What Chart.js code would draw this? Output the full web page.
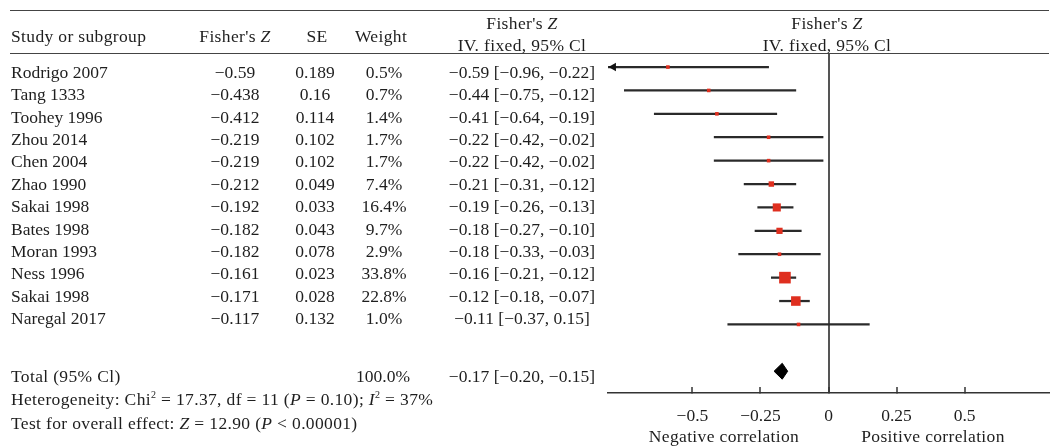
<!DOCTYPE html>
<html>
<head>
<meta charset="utf-8">
<script src="https://cdn.jsdelivr.net/npm/chart.js@4.4.0/dist/chart.umd.min.js"></script>
<style>
body { margin: 0; background: #fff; }
#wrap { position: relative; width: 1051px; height: 446px; font-family: "Liberation Serif", serif; font-size: 17.5px; color: #1e1e1e; }
#forest { position: absolute; left: 0; top: 0; }
.t { position: absolute; white-space: nowrap; line-height: 20px; }
.c { transform: translateX(-50%); }
.w { letter-spacing: 0.35px; }
.rule { position: absolute; left: 10px; width: 1039px; height: 0; border-top: 1.5px solid #444; }
sup { font-size: 10px; line-height: 0; }
</style>
</head>
<body>
<div id="wrap"><canvas id="forest" width="1051" height="446"></canvas></div>
<script>
// study rows
var studies = ['Rodrigo 2007', 'Tang 1333', 'Toohey 1996', 'Zhou 2014', 'Chen 2004', 'Zhao 1990',
  'Sakai 1998', 'Bates 1998', 'Moran 1993', 'Ness 1996', 'Sakai 1998', 'Naregal 2017'];
var fisherZ = [-0.59, -0.438, -0.412, -0.219, -0.219, -0.212, -0.192, -0.182, -0.182, -0.161, -0.171, -0.117];
var se = [0.189, 0.16, 0.114, 0.102, 0.102, 0.049, 0.033, 0.043, 0.078, 0.023, 0.028, 0.132];
var weights = [0.5, 0.7, 1.4, 1.7, 1.7, 7.4, 16.4, 9.7, 2.9, 33.8, 22.8, 1.0];
var estimate = [-0.59, -0.44, -0.41, -0.22, -0.22, -0.21, -0.19, -0.18, -0.18, -0.16, -0.12, -0.11];
var lower = [-0.96, -0.75, -0.64, -0.42, -0.42, -0.31, -0.26, -0.27, -0.33, -0.21, -0.18, -0.37];
var upper = [-0.22, -0.12, -0.19, -0.02, -0.02, -0.12, -0.13, -0.10, -0.03, -0.12, -0.07, 0.15];

// pooled result
var totalWeight = 100;
var totalEst = -0.17, totalLower = -0.20, totalUpper = -0.15;
var totalRow = 13;

var xTicks = [-0.5, -0.25, 0, 0.25, 0.5];
var xMin = -0.81, xMax = 0.81;

var RED = '#df2f1f';
var INK = '#1e1e1e';

function fmt(v) { return (v < 0 ? '\u2212' : '') + Math.abs(v).toFixed(2); }
function raw(v) { return String(v).replace('-', '\u2212'); }
function ciText(e, l, u) { return fmt(e) + ' [' + fmt(l) + ', ' + fmt(u) + ']'; }

var ciBars = studies.map(function (s, i) { return { x: [lower[i], upper[i]], y: i }; });
var squares = studies.map(function (s, i) { return { x: estimate[i], y: i }; });
// square side grows with the study weight
var squareRadius = weights.map(function (w) { return Math.max(3.6, 2 * Math.sqrt(w)) / 1.414; });
var arrows = [];
lower.forEach(function (l, i) { if (l < xMin) arrows.push({ x: xMin + 0.02, y: i }); });
var diamond = [
  { x: totalLower, y: totalRow }, { x: totalEst, y: totalRow - 0.34 },
  { x: totalUpper, y: totalRow }, { x: totalEst, y: totalRow + 0.34 }, { x: totalLower, y: totalRow }
];

var serif = { family: 'Liberation Serif', size: 17.5 };

var chart = new Chart(document.getElementById('forest'), {
  type: 'bar',
  data: {
    datasets: [{
      type: 'bar',
      indexAxis: 'y',
      data: ciBars,
      backgroundColor: '#2a2a2a',
      borderWidth: 0,
      barThickness: 1.6,
      order: 3
    }, {
      type: 'scatter',
      data: squares,
      pointStyle: 'rect',
      pointRadius: squareRadius,
      pointBackgroundColor: RED,
      pointBorderWidth: 0,
      order: 1
    }, {
      type: 'scatter',
      data: arrows,
      pointStyle: 'triangle',
      rotation: -90,
      pointRadius: 5,
      pointBackgroundColor: '#111',
      pointBorderWidth: 0,
      order: 2
    }, {
      type: 'line',
      data: diamond,
      borderColor: '#000',
      backgroundColor: '#000',
      borderWidth: 1,
      pointRadius: 0,
      fill: 'shape',
      tension: 0,
      order: 1
    }]
  },
  options: {
    responsive: false,
    animation: false,
    events: [],
    layout: { autoPadding: false, padding: { left: 608, right: 2, top: 53, bottom: 0 } },
    plugins: { legend: { display: false }, tooltip: { enabled: false } },
    scales: {
      x: {
        type: 'linear',
        position: 'bottom',
        offset: false,
        min: xMin,
        max: xMax,
        afterBuildTicks: function (s) { s.ticks = xTicks.map(function (v) { return { value: v }; }); },
        afterFit: function (s) { s.height = 53; },
        ticks: {
          font: serif,
          color: INK,
          padding: 19,
          maxRotation: 0,
          callback: function (v) { return v === 0 ? '0' : (v < 0 ? '\u2212' : '') + Math.abs(v); }
        },
        grid: {
          offset: false,
          drawOnChartArea: true,
          color: function (c) { return c.tick && c.tick.value === 0 ? '#555' : 'rgba(0,0,0,0)'; },
          lineWidth: 2,
          tickColor: '#333',
          tickWidth: 1.5,
          tickLength: -6
        },
        border: { display: true, color: '#333', width: 1.5 }
      },
      y: {
        type: 'linear',
        reverse: true,
        offset: false,
        grid: { offset: false },
        min: -0.6,
        max: 13.93,
        display: false
      }
    }
  }
});

// table text next to the plot
var wrap = document.getElementById('wrap');
function addText(html, x, y, center, wide) {
  var d = document.createElement('div');
  d.className = 't' + (center ? ' c' : '') + (wide ? ' w' : '');
  d.innerHTML = html;
  d.style.left = x + 'px';
  d.style.top = (y - 10) + 'px';
  wrap.appendChild(d);
}
function addRule(y) {
  var d = document.createElement('div');
  d.className = 'rule';
  d.style.top = y + 'px';
  wrap.appendChild(d);
}

addRule(10);
addRule(53);

addText('Study or subgroup', 11, 36, false, true);
addText('Fisher\'s <i>Z</i>', 235, 36, true, true);
addText('SE', 317, 36, true, true);
addText('Weight', 381, 36, true, true);
addText('Fisher\'s <i>Z</i>', 522, 23, true, true);
addText('IV. fixed, 95% Cl', 522, 45, true, true);
addText('Fisher\'s <i>Z</i>', 827, 23, true, true);
addText('IV. fixed, 95% Cl', 827, 45, true, true);

studies.forEach(function (s, i) {
  var y = 71.7 + 22.4 * i;
  addText(s, 11, y);
  addText(raw(fisherZ[i]), 235, y, true);
  addText(raw(se[i]), 315, y, true);
  addText(weights[i].toFixed(1) + '%', 384, y, true);
  addText(ciText(estimate[i], lower[i], upper[i]), 522, y, true);
});

addText('Total (95% Cl)', 11, 376, false, true);
addText(totalWeight.toFixed(1) + '%', 383, 376, true);
addText(ciText(totalEst, totalLower, totalUpper), 522, 376, true);
addText('Heterogeneity: Chi<sup>2</sup> = 17.37, df = 11 (<i>P</i> = 0.10); <i>I</i><sup>2</sup> = 37%', 11, 399, false, true);
addText('Test for overall effect: <i>Z</i> = 12.90 (<i>P</i> &lt; 0.00001)', 11, 423, false, true);

addText('Negative correlation', 724, 436, true, true);
addText('Positive correlation', 933, 436, true, true);
</script>
</body>
</html>
